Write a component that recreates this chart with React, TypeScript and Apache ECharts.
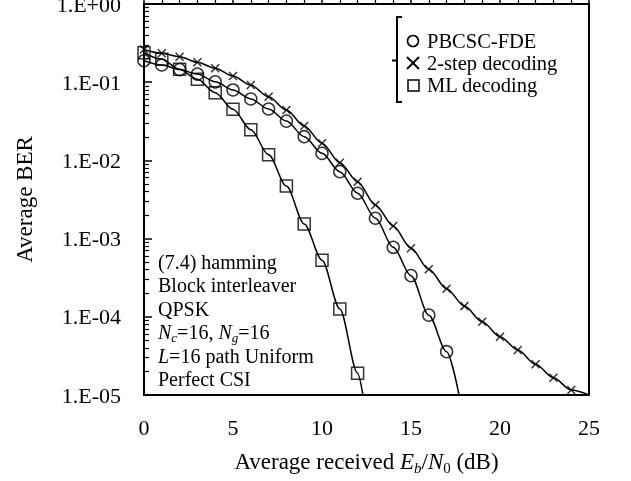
import React, { useEffect, useRef } from "react";
import * as echarts from "echarts";

// Eb/N0 (dB) sample points
const snrPb = [0, 1, 2, 3, 4, 5, 6, 7, 8, 9, 10, 11, 12, 13, 14, 15, 16, 17];
const berPb = [0.188, 0.166, 0.145, 0.127, 0.101, 0.0796, 0.061, 0.0454, 0.0318, 0.0201, 0.0123, 0.00718, 0.0038, 0.00182, 0.000774, 0.000336, 0.000105, 0.0000358];
const pbTail = [17.7, 0.00001];

const snrTs = [0, 1, 2, 3, 4, 5, 6, 7, 8, 9, 10, 11, 12, 13, 14, 15, 16, 17, 18, 19, 20, 21, 22, 23, 24];
const berTs = [0.262, 0.234, 0.212, 0.18, 0.151, 0.12, 0.092, 0.065, 0.044, 0.0275, 0.0166, 0.00935, 0.00534, 0.00269, 0.00145, 0.000752, 0.000405, 0.000229, 0.000137, 0.0000865, 0.0000557, 0.0000376, 0.0000247, 0.0000166, 0.0000116];
const tsTail = [25, 0.00001];

const snrMl = [0, 1, 2, 3, 4, 5, 6, 7, 8, 9, 10, 11, 12];
const berMl = [0.238, 0.196, 0.146, 0.109, 0.0734, 0.045, 0.0247, 0.0118, 0.0047, 0.00154, 0.00053, 0.000126, 0.000019];
const mlTail = [12.3, 0.00001];

const legendNames = ["PBCSC-FDE", "2-step decoding", "ML decoding"];
const noteLines = [
  "(7.4) hamming",
  "Block interleaver",
  "QPSK",
  "{i|N}{si|c}=16, {i|N}{si|g}=16",
  "{i|L}=16 path Uniform",
  "Perfect CSI",
];
const minorMultipliers = [2, 3, 4, 5, 6, 7, 8, 9];
const decades = [-5, -4, -3, -2, -1];

const FONT = "'Liberation Serif', 'Times New Roman', serif";

const toPts = (xs: number[], ys: number[]) => xs.map((x, i) => [x, Math.log10(ys[i])]);

export default function App() {
  const ref = useRef<HTMLDivElement>(null);
  useEffect(() => {
    if (!ref.current) return;
    const chart = echarts.init(ref.current, undefined, { renderer: "svg" });
    const minorVals: number[] = [];
    decades.forEach((d) => minorMultipliers.forEach((m) => minorVals.push(d + Math.log10(m))));

    const pbPts = toPts(snrPb, berPb);
    const tsPts = toPts(snrTs, berTs);
    const mlPts = toPts(snrMl, berMl);
    const curve = (pts: number[][], tail: number[]) => ({
      type: "line",
      data: [...pts, [tail[0], Math.log10(tail[1])]],
      showSymbol: false,
      smooth: 0.3,
      smoothMonotone: "x",
      lineStyle: { color: "#000", width: 1.5 },
      silent: true,
      z: 2,
    });
    const marks = (pts: number[][], symbol: string, size: number, bw: number) => ({
      type: "scatter",
      data: pts,
      symbol,
      symbolSize: size,
      itemStyle: { color: "rgba(0,0,0,0)", borderColor: "#000", borderWidth: bw },
      z: 3,
    });

    const textStyleBase = { fontFamily: FONT, fontSize: 20, fill: "#000" };
    const richNote = {
      i: { fontFamily: FONT, fontSize: 20, fontStyle: "italic", lineHeight: 24 },
      si: { fontFamily: FONT, fontSize: 13, fontStyle: "italic", lineHeight: 13, verticalAlign: "bottom" },
    };

    const graphics: any[] = [];
    // legend bracket
    graphics.push({
      type: "polyline",
      shape: { points: [[402, 17], [397, 17], [397, 102], [402, 102]] },
      style: { stroke: "#000", lineWidth: 2, fill: null },
    });
    graphics.push({
      type: "line",
      shape: { x1: 392, y1: 60.5, x2: 397, y2: 60.5 },
      style: { stroke: "#000", lineWidth: 2 },
    });
    // legend symbols
    graphics.push({ type: "circle", shape: { cx: 413, cy: 41, r: 5.5 }, style: { stroke: "#000", lineWidth: 1.6, fill: null } });
    graphics.push({ type: "line", shape: { x1: 407, y1: 57, x2: 419, y2: 69 }, style: { stroke: "#000", lineWidth: 2 } });
    graphics.push({ type: "line", shape: { x1: 419, y1: 57, x2: 407, y2: 69 }, style: { stroke: "#000", lineWidth: 2 } });
    graphics.push({ type: "rect", shape: { x: 408, y: 80, width: 11, height: 11 }, style: { stroke: "#000", lineWidth: 1.5, fill: null } });
    legendNames.forEach((n, i) => {
      graphics.push({
        type: "text",
        x: 427,
        y: 41 + i * 22,
        style: { ...textStyleBase, fontSize: 20.5, text: n, verticalAlign: "middle", align: "left" },
      });
    });
    noteLines.forEach((t, i) => {
      graphics.push({
        type: "text",
        x: 158,
        y: 262 + i * 23.4,
        style: { ...textStyleBase, text: t, verticalAlign: "middle", align: "left", rich: richNote },
      });
    });

    const fmtY = (v: number) => {
      const e = Math.round(v);
      return "1.E" + (e >= 0 ? "+" : "-") + String(Math.abs(e)).padStart(2, "0");
    };

    chart.setOption({
      animation: false,
      grid: {
        left: 144,
        right: 42,
        top: 4,
        bottom: 86,
        show: true,
        borderColor: "#000",
        borderWidth: 2,
        outerBoundsMode: "none",
      },
      xAxis: {
        type: "value",
        min: 0,
        max: 25,
        interval: 5,
        axisLine: { lineStyle: { color: "#000", width: 2 } },
        axisTick: { inside: true, length: 7, lineStyle: { color: "#000", width: 1.5 } },
        minorTick: { show: true, splitNumber: 5, length: 4, lineStyle: { color: "#000", width: 1.2 } },
        splitLine: { show: false },
        axisLabel: { color: "#000", fontFamily: FONT, fontSize: 22, margin: 21 },
        name: "{n|Average received }{i|E}{si|b}{n|/}{i|N}{s|0}{n| (dB)}",
        nameLocation: "middle",
        nameGap: 53,
        nameTextStyle: {
          color: "#000",
          fontFamily: FONT,
          fontSize: 23,
          rich: {
            n: { fontFamily: FONT, fontSize: 23, lineHeight: 27, color: "#000" },
            i: { fontFamily: FONT, fontSize: 23, fontStyle: "italic", lineHeight: 27, color: "#000" },
            si: { fontFamily: FONT, fontSize: 15, fontStyle: "italic", lineHeight: 15, verticalAlign: "bottom", color: "#000" },
            s: { fontFamily: FONT, fontSize: 15, lineHeight: 15, verticalAlign: "bottom", color: "#000" },
          },
        },
      },
      yAxis: [
        {
          type: "value",
          min: -5,
          max: 0,
          interval: 1,
          axisLine: { show: true, lineStyle: { color: "#000", width: 2 } },
          axisTick: { inside: true, length: 8, lineStyle: { color: "#000", width: 1.5 } },
          splitLine: { show: false },
          axisLabel: { color: "#000", fontFamily: FONT, fontSize: 22, margin: 23, formatter: fmtY },
          name: "Average BER",
          nameLocation: "middle",
          nameGap: 108,
          nameTextStyle: { color: "#000", fontFamily: FONT, fontSize: 23 },
        },
        {
          type: "value",
          min: -5,
          max: 0,
          position: "left",
          axisLine: { show: false },
          axisLabel: { show: false },
          splitLine: { show: false },
          axisTick: { show: true, inside: true, length: 5, customValues: minorVals, lineStyle: { color: "#000", width: 1.2 } },
        },
      ],
      graphic: graphics,
      series: [
        curve(pbPts, pbTail),
        curve(tsPts, tsTail),
        curve(mlPts, mlTail),
        marks(pbPts, "circle", 12, 1.5),
        marks(tsPts, "path://M0,0L10,10M10,0L0,10", 8, 1.5),
        marks(mlPts, "rect", 12, 1.5),
      ],
    });
    return () => chart.dispose();
  }, []);
  return <div ref={ref} style={{ position: "fixed", left: 0, top: 0, width: 631, height: 481 }} />;
}
